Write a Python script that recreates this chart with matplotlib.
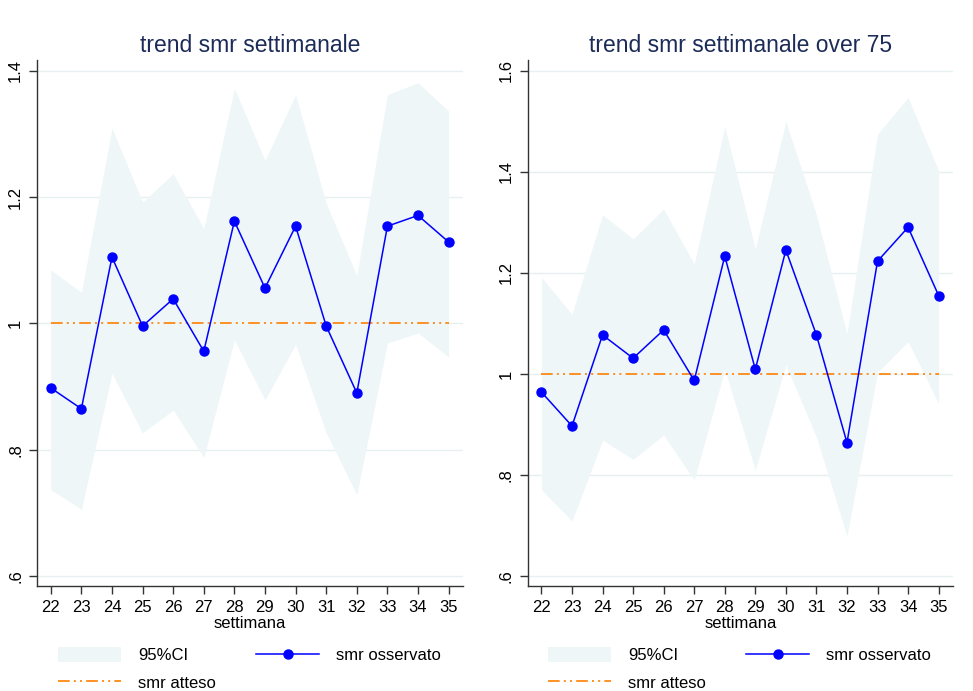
import matplotlib
matplotlib.use("Agg")
import matplotlib.pyplot as plt
from matplotlib.patches import Patch
from matplotlib.lines import Line2D

weeks = [22, 23, 24, 25, 26, 27, 28, 29, 30, 31, 32, 33, 34, 35]

smr_all = [0.898, 0.865, 1.105, 0.996, 1.039, 0.956, 1.162, 1.056, 1.154, 0.996, 0.890, 1.154, 1.171, 1.129]
ci_hi_all = [1.085, 1.049, 1.309, 1.192, 1.237, 1.150, 1.372, 1.258, 1.362, 1.190, 1.076, 1.362, 1.381, 1.336]
ci_lo_all = [0.737, 0.706, 0.921, 0.827, 0.863, 0.788, 0.974, 0.879, 0.967, 0.827, 0.729, 0.969, 0.985, 0.947]

smr_75 = [0.964, 0.897, 1.077, 1.031, 1.087, 0.987, 1.233, 1.009, 1.245, 1.077, 0.864, 1.223, 1.290, 1.155]
ci_hi_75 = [1.191, 1.118, 1.315, 1.267, 1.326, 1.217, 1.489, 1.247, 1.499, 1.315, 1.079, 1.474, 1.547, 1.402]
ci_lo_75 = [0.771, 0.709, 0.869, 0.831, 0.879, 0.790, 1.009, 0.810, 1.018, 0.875, 0.680, 1.003, 1.064, 0.941]

expected = 1.0

titles = ["trend smr settimanale", "trend smr settimanale over 75"]
yticks_all = [0.6, 0.8, 1.0, 1.2, 1.4]
yticklabels_all = [".6", ".8", "1", "1.2", "1.4"]
yticks_75 = [0.6, 0.8, 1.0, 1.2, 1.4, 1.6]
yticklabels_75 = [".6", ".8", "1", "1.2", "1.4", "1.6"]

plt.rcParams['font.family'] = ['Liberation Sans', 'DejaVu Sans']

FILL = '#eef6f8'
GRID = '#e6f0f2'
ORANGE = '#ff8000'
BLUE = '#0000ff'
TITLE = '#1c2b58'
DASH = (7, 2.5, 1.2, 2.5, 1.2, 2.5)
FS = 12

fig = plt.figure(figsize=(9.73, 6.91), dpi=100)

panels = [
    dict(rect=[37/973, 1-585.7/691, (463.3-37)/973, (585.7-60)/691],
         smr=smr_all, lo=ci_lo_all, hi=ci_hi_all, yt=yticks_all, ytl=yticklabels_all,
         ylim=(0.585, 1.417), title=titles[0], legx=58/973),
    dict(rect=[527.7/973, 1-585.7/691, (953.3-527.7)/973, (585.7-60)/691],
         smr=smr_75, lo=ci_lo_75, hi=ci_hi_75, yt=yticks_75, ytl=yticklabels_75,
         ylim=(0.581, 1.621), title=titles[1], legx=548/973),
]

for p in panels:
    ax = fig.add_axes(p['rect'])
    ax.fill_between(weeks, p['lo'], p['hi'], color=FILL, linewidth=0, zorder=1)
    ax.plot(weeks, [expected]*len(weeks), color=ORANGE, lw=1.2, dashes=DASH, zorder=3)
    ax.plot(weeks, p['smr'], color=BLUE, lw=1.1, marker='o', markersize=6.5, zorder=4)
    ax.set_xlim(21.55, 35.48)
    ax.set_ylim(*p['ylim'])
    ax.set_yticks(p['yt'])
    ax.set_yticklabels(p['ytl'], rotation=90, va='center', fontsize=FS)
    ax.set_xticks(weeks)
    ax.set_xticklabels([str(w) for w in weeks], fontsize=FS)
    ax.yaxis.grid(True, color=GRID, lw=1.0, zorder=0)
    ax.set_axisbelow(True)
    for s in ['top', 'right']:
        ax.spines[s].set_visible(False)
    for s in ['left', 'bottom']:
        ax.spines[s].set_color('#333333')
        ax.spines[s].set_linewidth(1.0)
    ax.tick_params(direction='out', length=6, width=1.0, color='#333333', pad=4, labelcolor='black')
    ax.set_xlabel("settimana", fontsize=FS, labelpad=1)
    ax.set_title(p['title'], fontsize=16.5, color=TITLE, pad=6)

    handles = [Patch(facecolor=FILL, edgecolor='none'),
               Line2D([], [], color=ORANGE, lw=1.2, dashes=DASH),
               Line2D([], [], color=BLUE, lw=1.1, marker='o', markersize=6.5)]
    labels = ["95%CI", "smr atteso", "smr osservato"]
    fig.legend(handles, labels, loc='upper left', bbox_to_anchor=(p['legx'], 1-647/691),
               ncol=2, frameon=False, fontsize=FS, handlelength=3.8, handleheight=1.05,
               handletextpad=1.0, columnspacing=2.4, labelspacing=0.65, borderpad=0,
               borderaxespad=0)

fig.savefig("out.png", dpi=100, facecolor='white')
